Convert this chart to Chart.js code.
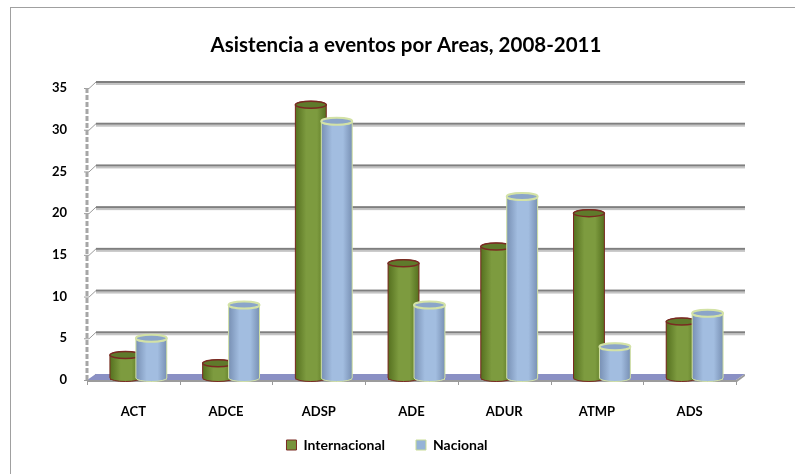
<!DOCTYPE html>
<html lang="es">
<head>
    <meta charset="UTF-8">
    <title>Asistencia a eventos por Areas</title>
    <script src="https://cdn.jsdelivr.net/npm/chart.js"></script>
    <style>
        body { margin: 0; background: #fff; }
        #wrap { position: relative; width: 795px; height: 474px; overflow: hidden; }
    </style>
</head>
<body>
    <div id="wrap"><canvas id="myChart" width="795" height="474"></canvas></div>
    <script>
        const categories = ['ACT', 'ADCE', 'ADSP', 'ADE', 'ADUR', 'ATMP', 'ADS'];
        const internacional = [3, 2, 33, 14, 16, 20, 7];
        const nacional = [5, 9, 31, 9, 22, 4, 8];
        const yMin = 0, yMax = 35, yStep = 5;
        const chartTitle = 'Asistencia a eventos por Areas, 2008-2011';

        const FONT = 'Lato, "Open Sans", sans-serif';
        const DX = 9, DY = -6; // depth of the 3d back wall

        // frame, title, back wall gridlines, floor and y axis
        const wallPlugin = {
            id: 'wall',
            beforeDraw(chart) {
                const c = chart.ctx;
                c.save();
                c.strokeStyle = '#a0a0a0';
                c.lineWidth = 1;
                c.strokeRect(10.5, 7.5, 820, 500);
                c.fillStyle = '#000';
                c.font = 'bold 20.5px ' + FONT;
                c.textAlign = 'center';
                c.textBaseline = 'middle';
                c.fillText(chartTitle, 406, 45);
                c.restore();
            },
            beforeDatasetsDraw(chart) {
                const c = chart.ctx, a = chart.chartArea, y = chart.scales.y;
                c.save();
                for (let v = yMin; v <= yMax; v += yStep) {
                    const py = y.getPixelForValue(v);
                    if (v > 0) {
                        c.fillStyle = '#c4c4c4';
                        c.fillRect(a.left + DX, py + DY + 1, a.right - a.left, 2);
                        c.fillStyle = '#7f7f7f';
                        c.fillRect(a.left + DX, py + DY - 1, a.right - a.left, 2);
                    }
                    c.strokeStyle = '#9a9a9a';
                    c.lineWidth = 1;
                    c.beginPath();
                    c.moveTo(a.left - 3, py + 0.5);
                    c.lineTo(a.left + 2, py + 0.5);
                    c.lineTo(a.left + DX, py + DY);
                    c.stroke();
                }
                // floor
                const b = a.bottom;
                c.fillStyle = '#8a90c4';
                c.beginPath();
                c.moveTo(a.left, b);
                c.lineTo(a.right, b);
                c.lineTo(a.right + DX, b + DY);
                c.lineTo(a.left + DX, b + DY);
                c.closePath();
                c.fill();
                c.fillStyle = '#9c9c9c';
                c.beginPath();
                c.moveTo(a.left, b);
                c.lineTo(a.right, b);
                c.lineTo(a.right + DX, b + DY);
                c.lineTo(a.right + DX, b + DY + 2);
                c.lineTo(a.right + 1, b + 2);
                c.lineTo(a.left, b + 2);
                c.closePath();
                c.fill();
                // dashed wall edge
                c.strokeStyle = '#a6a6a6';
                c.lineWidth = 3;
                c.setLineDash([5, 2]);
                c.beginPath();
                c.moveTo(a.left, a.top);
                c.lineTo(a.left, b);
                c.stroke();
                c.setLineDash([]);
                // category ticks
                c.strokeStyle = '#9a9a9a';
                c.lineWidth = 1;
                const step = (a.right - a.left) / categories.length;
                for (let i = 0; i <= categories.length; i++) {
                    const px = Math.round(a.left + i * step) + 0.5;
                    c.beginPath();
                    c.moveTo(px, b + 1);
                    c.lineTo(px, b + 5);
                    c.stroke();
                }
                c.restore();
                c.save();
                c.translate(5, 0);
            },
            afterDatasetsDraw(chart) {
                const c = chart.ctx;
                const looks = [
                    { dark: '#55701f', mid: '#7d9b3f', top: '#5f7a2b', edge: '#7a2a22', topEdge: 1.5 },
                    { dark: '#7890b4', mid: '#a2bde0', top: '#8ba5c9', edge: '#d3e2a6', topEdge: 2 }
                ];
                chart.data.datasets.forEach((ds, di) => {
                    const meta = chart.getDatasetMeta(di);
                    const lk = looks[di];
                    meta.data.forEach(el => {
                        const w = el.width, cx = el.x, x0 = cx - w / 2, x1 = cx + w / 2;
                        const top = el.y, base = el.base - 2, ry = 3.5, rx = w / 2;
                        const g = c.createLinearGradient(x0, 0, x1, 0);
                        g.addColorStop(0, lk.dark);
                        g.addColorStop(0.35, lk.mid);
                        g.addColorStop(0.7, lk.mid);
                        g.addColorStop(1, lk.dark);
                        c.beginPath();
                        c.moveTo(x0, top);
                        c.lineTo(x0, base);
                        c.ellipse(cx, base, rx, ry, 0, Math.PI, 0, true);
                        c.lineTo(x1, top);
                        c.ellipse(cx, top, rx, ry, 0, 0, Math.PI, true);
                        c.closePath();
                        c.fillStyle = g;
                        c.fill();
                        c.strokeStyle = lk.edge;
                        c.lineWidth = 1;
                        c.stroke();
                        c.beginPath();
                        c.ellipse(cx, top, rx, ry, 0, 0, Math.PI * 2);
                        c.fillStyle = lk.top;
                        c.fill();
                        c.lineWidth = lk.topEdge;
                        c.stroke();
                    });
                });
                c.restore();
            }
        };

        const ctx = document.getElementById('myChart').getContext('2d');
        const chart = new Chart(ctx, {
            type: 'bar',
            data: {
                labels: categories,
                datasets: [{
                    label: 'Internacional',
                    data: internacional,
                    backgroundColor: '#77933c',
                    borderColor: '#7a2a22',
                    borderWidth: 1
                }, {
                    label: 'Nacional',
                    data: nacional,
                    backgroundColor: '#95b3d7',
                    borderColor: '#c9dc96',
                    borderWidth: 1
                }]
            },
            plugins: [wallPlugin],
            options: {
                responsive: false,
                animation: false,
                categoryPercentage: 0.56,
                barPercentage: 1.19,
                layout: { padding: { left: 38, right: 59, top: 88, bottom: 12 } },
                plugins: {
                    title: { display: false },
                    legend: {
                        position: 'bottom',
                        labels: {
                            color: '#000',
                            boxWidth: 10,
                            boxHeight: 10,
                            padding: 17,
                            font: { family: FONT, size: 14, weight: 'bold' },
                            generateLabels(ch) {
                                const items = Chart.defaults.plugins.legend.labels.generateLabels(ch);
                                items[0].text += '\u2002\u2002';
                                return items;
                            }
                        }
                    },
                    tooltip: { enabled: false }
                },
                scales: {
                    x: {
                        grid: { display: false, drawTicks: false },
                        border: { display: false },
                        ticks: {
                            color: '#000',
                            padding: 24,
                            maxRotation: 0,
                            font: { family: FONT, size: 13, weight: 'bold' }
                        },
                        afterFit(s) { s.height = 41; }
                    },
                    y: {
                        min: yMin,
                        max: yMax,
                        grid: { display: false, drawTicks: false },
                        border: { display: false },
                        ticks: {
                            stepSize: yStep,
                            color: '#000',
                            padding: 20,
                            font: { family: FONT, size: 13, weight: 'bold' }
                        },
                        afterFit(s) { s.width = 49; }
                    }
                }
            }
        });
    </script>
</body>
</html>
